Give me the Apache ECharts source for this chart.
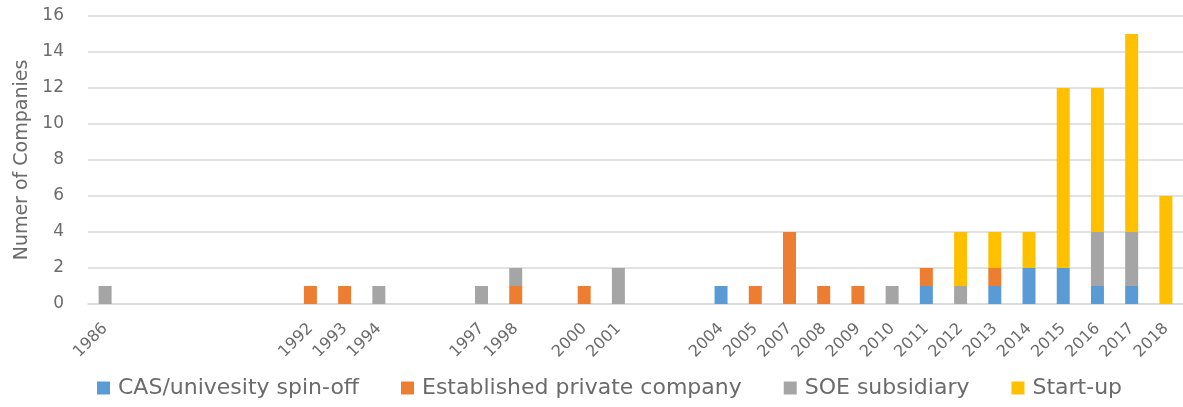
<!DOCTYPE html>
<html>
<head>
<meta charset="utf-8">
<script src="https://cdn.jsdelivr.net/npm/echarts@6/dist/echarts.min.js"></script>
<style>
html,body{margin:0;padding:0;background:#fff;}
#chart{width:1183px;height:407px;}
</style>
</head>
<body>
<div id="chart"></div>
<script>
// Categories (blank strings are empty years shown as gaps)
const categories = ['1986','','','','','','1992','1993','1994','','','1997','1998','','2000','2001','','','2004','2005','2007','2008','2009','2010','2011','2012','2013','2014','2015','2016','2017','2018'];
const casSpinoff   = [0,0,0,0,0,0,0,0,0,0,0,0,0,0,0,0,0,0,1,0,0,0,0,0,1,0,1,2,2,1,1,0];
const establishedPrivate = [0,0,0,0,0,0,1,1,0,0,0,0,1,0,1,0,0,0,0,1,4,1,1,0,1,0,1,0,0,0,0,0];
const soeSubsidiary = [1,0,0,0,0,0,0,0,1,0,0,1,1,0,0,2,0,0,0,0,0,0,0,1,0,1,0,0,0,3,3,0];
const startUp      = [0,0,0,0,0,0,0,0,0,0,0,0,0,0,0,0,0,0,0,0,0,0,0,0,0,3,2,2,10,8,11,6];
const seriesNames = ['CAS/univesity spin-off','Established private company','SOE subsidiary','Start-up'];
const colors = ['#5B9BD5','#ED7D31','#A5A5A5','#FFC000'];
const yTicks = {min:0, max:16, interval:2};

const font = '"DejaVu Sans", sans-serif';
const chart = echarts.init(document.getElementById('chart'), null, {renderer:'canvas'});
const mk = (name, data, color) => ({
  name, type:'bar', stack:'total', data: data.map(v => v === 0 ? null : v),
  barWidth: 13, itemStyle:{color}, emphasis:{disabled:true}
});
chart.setOption({
  animation:false,
  textStyle:{fontFamily:font},
  grid:{left:88, right:0, top:16, bottom:103, containLabel:false},
  legend:{
    left:97, top:377, padding:[0,0,0,0], itemWidth:13, itemHeight:13, itemGap:42,
    icon:'rect',
    textStyle:{color:'#6b6b6b', fontSize:22, fontFamily:font, padding:[0,0,0,3]},
    data: seriesNames
  },
  xAxis:{
    type:'category', data:categories,
    axisLine:{lineStyle:{color:'#D9D9D9', width:1.5}},
    axisTick:{show:false},
    axisLabel:{interval:0, rotate:45, color:'#6b6b6b', fontSize:16, margin:22, fontFamily:font}
  },
  yAxis:{
    type:'value', min:yTicks.min, max:yTicks.max, interval:yTicks.interval,
    name:'Numer of Companies', nameLocation:'middle', nameGap:56, nameRotate:90,
    nameTextStyle:{color:'#6b6b6b', fontSize:19, fontFamily:font},
    axisLine:{show:false}, axisTick:{show:false},
    axisLabel:{color:'#6b6b6b', fontSize:17, margin:24, fontFamily:font},
    splitLine:{lineStyle:{color:'#D9D9D9', width:1.5}}
  },
  series:[
    mk(seriesNames[0], casSpinoff, colors[0]),
    mk(seriesNames[1], establishedPrivate, colors[1]),
    mk(seriesNames[2], soeSubsidiary, colors[2]),
    mk(seriesNames[3], startUp, colors[3])
  ]
});
</script>
</body>
</html>
